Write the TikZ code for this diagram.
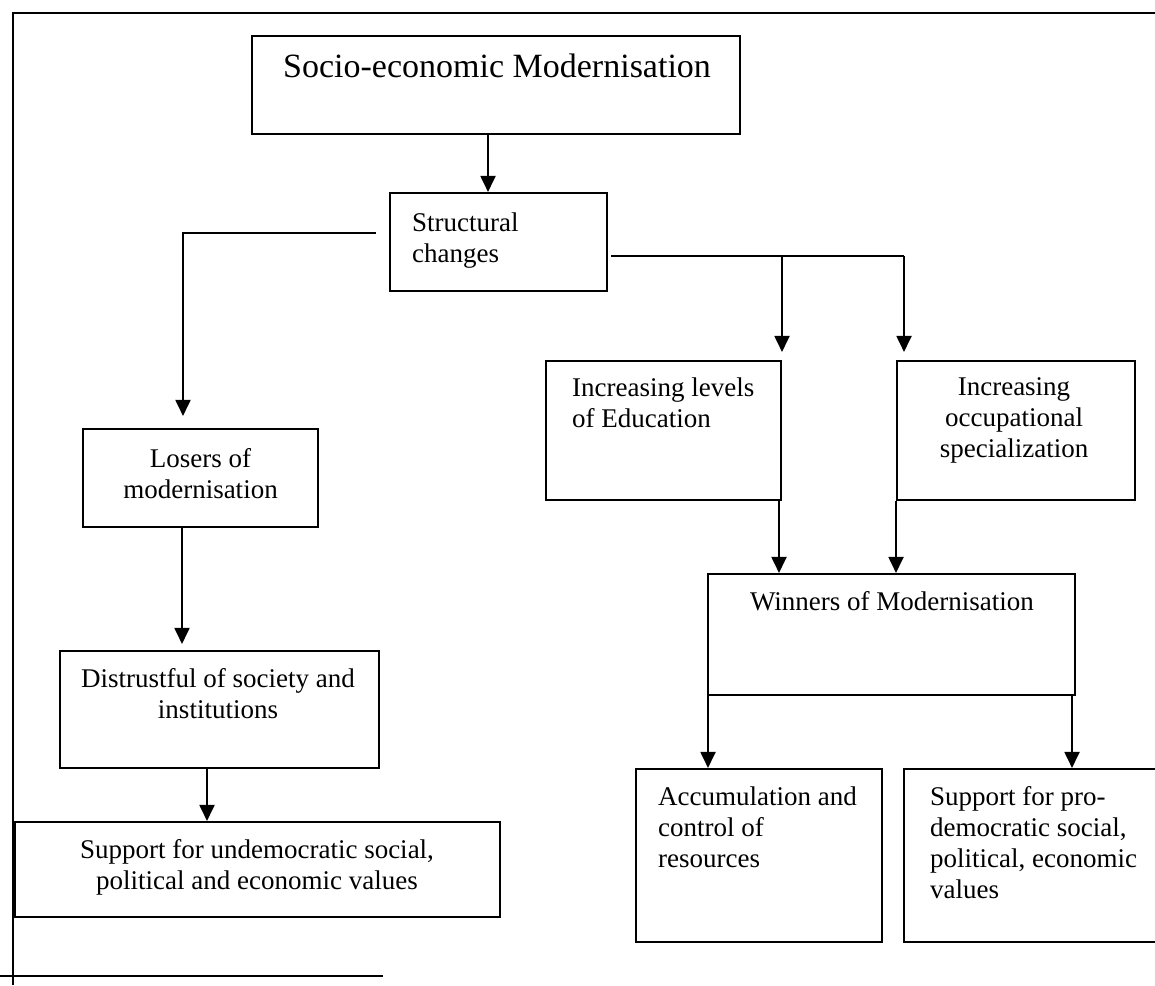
\documentclass[tikz,border=0pt]{standalone}
\usepackage{fontspec}
\setmainfont{Liberation Serif}
\usetikzlibrary{arrows.meta,calc}
\begin{document}
\begin{tikzpicture}[x=1pt,y=-1pt,
  bx/.style={draw,line width=2.1pt,inner sep=0pt},
  ln/.style={line width=1.9pt},
  arr/.style={line width=1.9pt,-{Triangle[length=16pt,width=15pt]}},
  txt/.style={inner sep=0pt,font=\fontsize{27}{31}\selectfont},
  bigtxt/.style={inner sep=0pt,font=\fontsize{34}{40}\selectfont}]
\useasboundingbox (0,0) rectangle (1155,985);
% frame
\draw[ln] (13,985) -- (13,13) -- (1155,13);
\draw[ln] (0,976) -- (383,976);
% boxes
\node[bx,minimum width=488,minimum height=98] (topb) at (496,85) {};
\node[bx,minimum width=217,minimum height=98] (struct) at (498.5,242) {};
\node[bx,minimum width=235,minimum height=98] (losers) at (200.5,478) {};
\node[bx,minimum width=319,minimum height=117] (distr) at (219.5,709.5) {};
\node[bx,minimum width=485,minimum height=95] (undem) at (257.5,869.5) {};
\node[bx,minimum width=235,minimum height=139] (edu) at (663.5,430.5) {};
\node[bx,minimum width=238,minimum height=139] (occ) at (1016,430.5) {};
\node[bx,minimum width=367,minimum height=121] (win) at (891.5,634.5) {};
\node[bx,minimum width=246,minimum height=173] (acc) at (759,855.5) {};
\node[bx,minimum width=261,minimum height=173] (pro) at (1034.5,855.5) {};
% texts (base anchor = baseline of the last line)
\node[bigtxt,anchor=base west] (topT) at (283,77) {Socio-economic Modernisation};
\node[txt,anchor=base west,align=left] (structT) at (412,262) {Structural\\changes};
\node[txt,anchor=base,align=center] (losersT) at (200.5,498) {Losers of\\modernisation};
\node[txt,anchor=base,align=center] (distrT) at (218,718) {Distrustful of society and\\institutions};
\node[txt,anchor=base,align=center] (undemT) at (257,889) {Support for undemocratic social,\\political and economic values};
\node[txt,anchor=base west,align=left] (eduT) at (572,427) {Increasing levels\\of Education};
\node[txt,anchor=base,align=center] (occT) at (1014,457) {Increasing\\occupational\\specialization};
\node[txt,anchor=base] (winT) at (892,610) {Winners of Modernisation};
\node[txt,anchor=base west,align=left] (accT) at (658,867) {Accumulation and\\control of\\resources};
\node[txt,anchor=base west,align=left] (proT) at (930,898) {Support for pro-\\democratic social,\\political, economic\\values};
% column coordinates
\coordinate (xa) at (488,0);
\coordinate (xb) at (183,0);
\coordinate (xc) at (782,0);
\coordinate (xd) at (904,0);
\coordinate (xe) at (182,0);
\coordinate (xf) at (207,0);
\coordinate (xg) at (779,0);
\coordinate (xh) at (896,0);
\coordinate (xi) at (708,0);
\coordinate (xj) at (1072,0);
% connectors
\draw[arr] (topb.south -| xa) -- (struct.north -| xa);
\draw[arr] ([xshift=-13pt,yshift=9pt]struct.west) -| ([yshift=12pt]losers.north -| xb);
\coordinate (jr) at ([xshift=3pt,yshift=-14pt]struct.east);
\draw[ln] (jr) -- (jr -| xd);
\draw[arr] (jr -| xc) -- ([yshift=8pt]edu.north -| xc);
\draw[arr] (jr -| xd) -- ([yshift=8pt]occ.north -| xd);
\draw[arr] (losers.south -| xe) -- ([yshift=6pt]distr.north -| xe);
\draw[arr] (distr.south -| xf) -- (undem.north -| xf);
\draw[arr] (edu.south -| xg) -- (win.north -| xg);
\draw[arr] (occ.south -| xh) -- (win.north -| xh);
\draw[arr] (win.south -| xi) -- (acc.north -| xi);
\draw[arr] (win.south -| xj) -- (pro.north -| xj);
\end{tikzpicture}
\end{document}
